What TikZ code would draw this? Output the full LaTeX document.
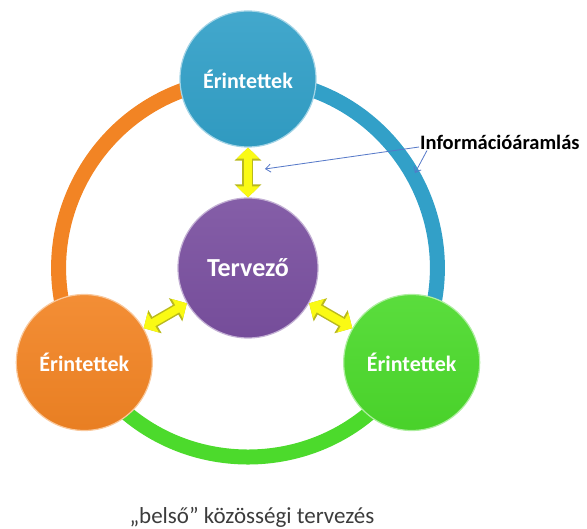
\documentclass[tikz,border=0pt]{standalone}
\usepackage{fontspec}
\setmainfont{Carlito}
\usetikzlibrary{arrows.meta,backgrounds}
\definecolor{blueball}{RGB}{50,160,200}
\definecolor{purpleball}{RGB}{122,80,160}
\definecolor{orangeball}{RGB}{242,132,36}
\definecolor{greenball}{RGB}{76,218,44}
\definecolor{arrowyellow}{RGB}{250,250,20}
\definecolor{arrowedge}{RGB}{185,185,30}
\definecolor{infoblue}{RGB}{85,120,200}
\definecolor{gray700}{RGB}{60,60,60}

\tikzset{
  ball/.style={circle, minimum size=136pt, inner sep=0pt, text=white,
    font=\bfseries\fontsize{22}{26}\selectfont,
    draw=#1!45!white, line width=1.2pt,
    shading=axis, top color=#1!92!white, bottom color=#1!96!black},
  ring/.style={line width=15pt, #1},
  flowedge/.style={line width=11pt, arrowedge,
    {Triangle[length=13pt,width=26pt]}-{Triangle[length=13pt,width=26pt]}},
  flow/.style={line width=8pt, arrowyellow,
    {Triangle[length=11pt,width=22pt]}-{Triangle[length=11pt,width=22pt]}},
  infoarrow/.style={infoblue, line width=0.8pt, -{Straight Barb[length=5pt,width=8pt]}}
}

\begin{document}
\begin{tikzpicture}[x=1pt, y=1pt]
\useasboundingbox (-248,-261) rectangle (339,268);

% Centre
\node[ball=purpleball, minimum size=140pt, font=\bfseries\fontsize{26}{31}\selectfont] (mid) at (0,0) {Tervező};

% Outer circles
\foreach \ang/\name/\col in {90/top/blueball, 210/left/orangeball, 330/right/greenball} {
    \node[ball=\col] (\name) at (\ang:189) {Érintettek};
}

% Ring
\begin{scope}[on background layer]
\foreach \a/\b/\col in {top/right/blueball, right/left/greenball, left/top/orangeball} {
    \draw[ring=\col] (\a.center) to[bend left=60, looseness=1.14] (\b.center);
}
\end{scope}

% Information flow
\foreach \name in {top, left, right} {
    \draw[flowedge] (mid) -- (\name);
    \draw[flow] (mid) -- (\name);
}

% Label
\node[anchor=west, inner sep=1pt, font=\bfseries\fontsize{20.5}{24}\selectfont] (info) at (171,126) {Információáramlás};
\coordinate (yellowpt) at (17,99);
\coordinate (ringpt) at (167,95);
\draw[infoarrow] ([yshift=-5pt]info.west) -- (yellowpt);
\draw[infoarrow] ([xshift=8pt]info.south west) -- (ringpt);

% Caption
\node[text=gray700, font=\fontsize{23}{27}\selectfont] (caption) at (4,-249) {„belső” közösségi tervezés};
\end{tikzpicture}
\end{document}
